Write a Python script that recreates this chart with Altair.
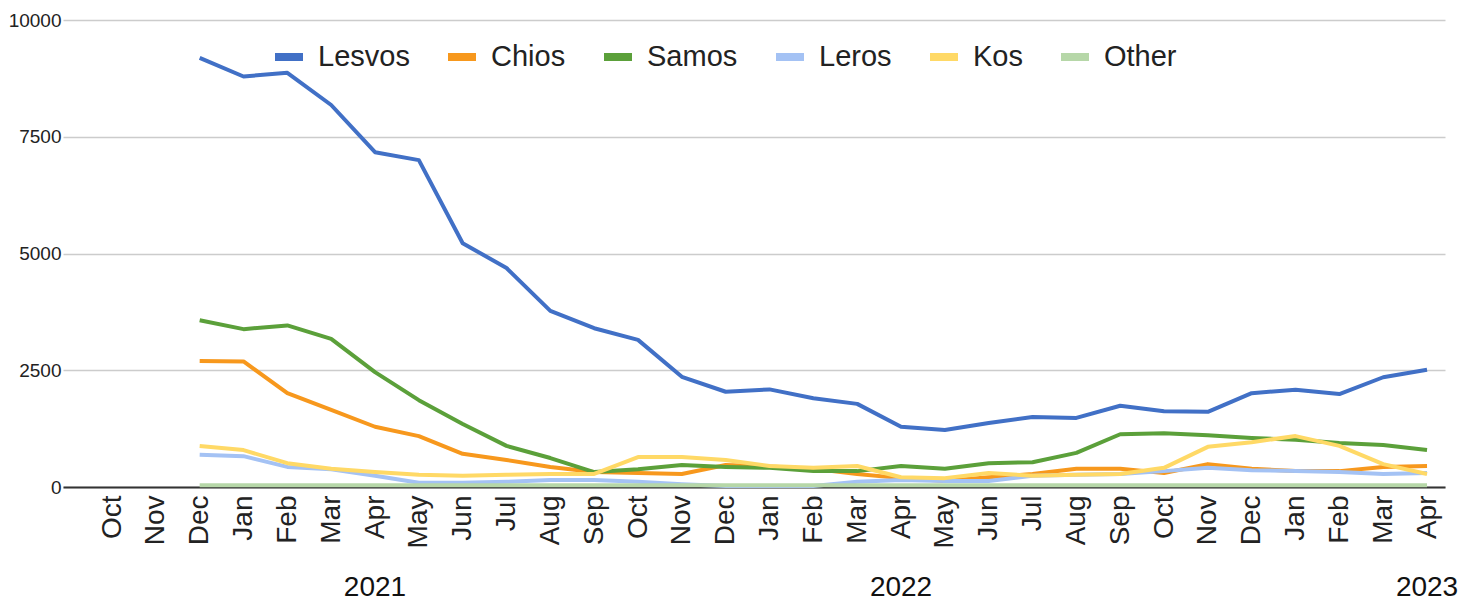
import altair as alt
import pandas as pd

months = ["Oct", "Nov", "Dec", "Jan", "Feb", "Mar", "Apr", "May", "Jun", "Jul", "Aug", "Sep",
          "Oct", "Nov", "Dec", "Jan", "Feb", "Mar", "Apr", "May", "Jun", "Jul", "Aug", "Sep",
          "Oct", "Nov", "Dec", "Jan", "Feb", "Mar", "Apr"]

series_names = ["Lesvos", "Chios", "Samos", "Leros", "Kos", "Other"]
series_colors = ["#4170c6", "#f7981d", "#5ba03a", "#a4c2f4", "#ffd966", "#b6d7a8"]

lesvos = [None, None, 9190, 8790, 8870, 8180, 7170, 7000, 5220, 4690, 3770, 3400, 3150, 2360, 2040,
          2090, 1900, 1780, 1290, 1220, 1370, 1500, 1480, 1740, 1620, 1610, 2010, 2080, 1990, 2350, 2510]
chios = [None, None, 2700, 2690, 2010, 1650, 1290, 1090, 710, 580, 430, 320, 300, 280, 470,
         440, 390, 280, 190, 130, 210, 280, 390, 390, 300, 490, 390, 340, 340, 430, 450]
samos = [None, None, 3570, 3380, 3460, 3170, 2460, 1860, 1350, 880, 620, 320, 380, 470, 430,
         410, 340, 340, 450, 390, 510, 530, 730, 1130, 1150, 1110, 1050, 1010, 940, 900, 790]
leros = [None, None, 690, 660, 430, 380, 240, 90, 90, 110, 150, 150, 110, 60, 20,
         20, 20, 110, 150, 130, 130, 240, 260, 280, 340, 410, 360, 340, 320, 280, 300]
kos = [None, None, 880, 790, 510, 390, 320, 260, 240, 260, 280, 280, 640, 640, 580,
       450, 410, 450, 210, 190, 300, 240, 260, 280, 410, 860, 960, 1090, 880, 490, 280]
other = [None, None, 40, 40, 40, 40, 40, 40, 40, 40, 40, 40, 40, 40, 40,
         40, 40, 40, 40, 40, 40, 40, 40, 40, 40, 40, 40, 40, 40, 40, 40]

years = ["2021", "2022", "2023"]
year_pos = [6, 18, 30]

all_series = [lesvos, chios, samos, leros, kos, other]
rows = []
for name, vals in zip(series_names, all_series):
    for i, v in enumerate(vals):
        if v is not None:
            rows.append({"i": i, "series": name, "value": v})
df = pd.DataFrame(rows)
df_years = pd.DataFrame({"i": year_pos, "year": years})

FONT = "Liberation Sans, Arial, sans-serif"
label_expr = "[" + ",".join("'" + m + "'" for m in months) + "][datum.value]"

xscale = alt.Scale(domain=[-1.118, 30.41], nice=False, zero=False)

lines = alt.Chart(df).mark_line(strokeWidth=4, strokeJoin="round").encode(
    x=alt.X("i:Q", scale=xscale,
            axis=alt.Axis(values=list(range(len(months))), labelExpr=label_expr, title=None,
                          labelAngle=270, labelAlign="right", labelBaseline="middle",
                          labelFontSize=28, labelFont=FONT, labelColor="#222222",
                          labelPadding=8, ticks=False, grid=False, domain=True,
                          domainColor="#333333", domainWidth=2, labelOverlap=False)),
    y=alt.Y("value:Q", scale=alt.Scale(domain=[0, 10000], nice=False),
            axis=alt.Axis(values=[0, 2500, 5000, 7500, 10000], title=None, ticks=False,
                          domain=False, gridColor="#cccccc", gridWidth=1.5, format="d",
                          labelFontSize=19, labelFont=FONT, labelColor="#222222",
                          labelPadding=2)),
    color=alt.Color("series:N",
                    scale=alt.Scale(domain=series_names, range=series_colors),
                    sort=series_names,
                    legend=alt.Legend(title=None, orient="none", direction="horizontal",
                                      legendX=208, legendY=19, symbolType="stroke",
                                      symbolStrokeWidth=8, symbolSize=784,
                                      labelFontSize=29, labelFont=FONT, labelColor="#222222",
                                      labelOffset=11, columnPadding=22, padding=0,
                                      columns=6)),
    order=alt.Order("series_order:Q"),
).transform_calculate(
    series_order="indexof(" + str(series_names).replace("'", '"') + ", datum.series)"
)

year_text = alt.Chart(df_years).mark_text(fontSize=28, font=FONT, color="#111111",
                                          baseline="middle", align="center").encode(
    x=alt.X("i:Q", scale=xscale),
    y=alt.value(568),
    text="year:N",
)

chart = alt.layer(lines, year_text).properties(
    width=1382, height=467,
    padding={"left": 55, "top": 12, "right": 14, "bottom": 117},
    autosize=alt.AutoSizeParams(type="none"),
).configure_view(stroke=None)

chart.save("out.html", embed_options={"renderer": "svg", "actions": False})
